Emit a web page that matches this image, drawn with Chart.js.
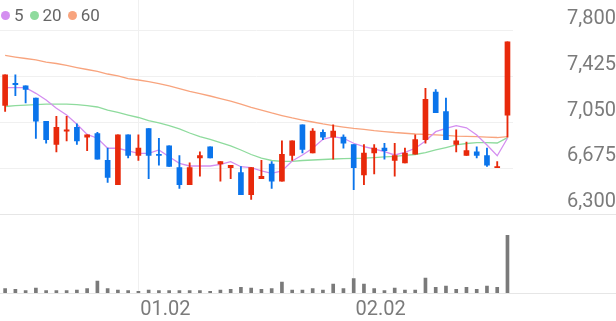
<!DOCTYPE html>
<html>
<head>
<meta charset="utf-8">
<script src="https://cdn.jsdelivr.net/npm/chart.js@4.4.1/dist/chart.umd.min.js"></script>
<style>
  html, body { margin: 0; padding: 0; background: #fff; }
  #wrap { position: relative; width: 616px; height: 321px; }
  #legend {
    position: absolute; left: 1px; top: 5px;
    font: 17px Roboto, sans-serif; color: #666;
    display: flex; align-items: center; line-height: 20px;
  }
  #legend .item { display: flex; align-items: center; margin-right: 6px; }
  #legend .dot { width: 9px; height: 9px; border-radius: 50%; margin-right: 4px; }
</style>
</head>
<body>
<div id="wrap">
  <canvas id="chart" width="616" height="321"></canvas>
  <div id="legend"></div>
</div>
<script>
// daily candles, Dec 2022 - Feb 2023
const categories = [
  '12.13','12.14','12.15','12.16','12.19','12.20','12.21','12.22','12.23','12.26',
  '12.27','12.28','12.29','01.02','01.03','01.04','01.05','01.06','01.09','01.10',
  '01.11','01.12','01.13','01.16','01.17','01.18','01.19','01.20','01.25','01.26',
  '01.27','01.30','01.31','02.01','02.02','02.03','02.06','02.07','02.08','02.09',
  '02.10','02.13','02.14','02.15','02.16','02.17','02.20','02.21','02.22','02.23'
];
const openPrices = [
  7190,7370,7350,7250,7060,6870,6980,7010,6930,6960,
  6740,6540,6950,6780,7000,6790,6860,6680,6540,6760,
  6850,6710,6680,6640,6460,6590,6710,6570,6780,7030,
  6800,6970,6930,6930,6870,6620,6800,6840,6740,6720,
  6790,6910,7300,7140,6870,6780,6810,6780,6680,7110
];
const highPrices = [
  7440,7440,7350,7250,7060,7100,7100,7040,6950,6970,
  6840,6950,6950,6950,7000,6920,6860,6780,6720,6810,
  6850,6730,6700,6690,6680,6740,6730,6900,6900,7030,
  7000,6990,7030,6950,6870,6870,6870,6880,6880,6840,
  6950,7330,7320,7250,6990,6890,6850,6840,6730,7710
];
const lowPrices = [
  7140,7270,7210,6920,6880,6810,6900,6870,6820,6750,
  6560,6540,6760,6740,6590,6700,6690,6510,6540,6610,
  6760,6570,6590,6460,6420,6590,6510,6570,6740,6800,
  6800,6910,6750,6840,6500,6540,6630,6750,6610,6720,
  6790,6880,7130,6910,6810,6780,6760,6690,6680,6930
];
const closePrices = [
  7440,7360,7320,7060,6910,7010,6990,6900,6950,6750,
  6600,6950,6780,6840,6780,6780,6690,6540,6680,6780,
  6760,6730,6700,6460,6680,6610,6570,6790,6900,6830,
  6980,6930,6980,6880,6680,6800,6840,6820,6780,6800,
  6910,7240,7130,6910,6900,6820,6780,6700,6690,7710
];
const volumes = [
  21500,18500,11500,25000,11500,11500,11500,15000,21500,60000,
  21500,15000,11500,8500,15000,11500,11500,11500,11500,11500,
  8500,15000,18500,28500,25000,18500,21500,55000,15000,15000,
  21500,15000,45000,21500,71500,45000,21500,11500,25000,15000,
  15000,75000,28500,35000,18500,28500,18500,35000,28500,288500
];
const ma5 = [
  7335,7335,7335,7289,7234,7166,7111,7035,6953,6921,
  6839,6839,6817,6798,6798,6825,6770,6716,6694,6694,
  6694,6708,6729,6688,6680,6653,6634,6653,6735,6784,
  6839,6912,6934,6921,6880,6852,6833,6811,6784,6806,
  6839,6898,6975,7002,7024,7007,6948,6866,6778,6921
];
const ma20 = [
  7181,7189,7193,7197,7201,7201,7201,7197,7189,7177,
  7152,7132,7111,7091,7066,7046,7025,6997,6964,6935,
  6911,6886,6858,6825,6788,6759,6739,6731,6731,6739,
  6743,6747,6751,6755,6757,6759,6763,6768,6772,6780,
  6788,6804,6825,6845,6866,6878,6886,6886,6882,6926
];
const ma60 = [
  7599,7586,7574,7562,7545,7533,7517,7500,7484,7468,
  7447,7431,7410,7398,7384,7369,7349,7328,7304,7287,
  7267,7246,7226,7201,7173,7152,7128,7107,7087,7070,
  7054,7038,7024,7013,7002,6993,6983,6976,6968,6962,
  6956,6952,6948,6944,6939,6937,6934,6931,6927,6935
];
const priceTicks = [6300, 6675, 7050, 7425, 7800];
const tickLabels = ['01.02', '02.02'];
const maNames = ['5', '20', '60'];

const UP = '#e8290b', DOWN = '#0a74eb';
const maColors = ['#d48ef0', '#8edb9d', '#f8a47e'];
const GRID = '#f0f0f0';
const candleColors = closePrices.map((c, i) => c >= openPrices[i] ? UP : DOWN);

// legend (html)
const legendEl = document.getElementById('legend');
maNames.forEach((n, i) => {
  legendEl.innerHTML += '<div class="item"><span class="dot" style="background:' + maColors[i] + '"></span>' + n + '</div>';
});

// full-width separator lines under the price panel and along the x axis
const separators = {
  id: 'separators',
  beforeDatasetsDraw(chart) {
    const c = chart.ctx;
    const ys = [Math.round(chart.scales.y.getPixelForValue(priceTicks[0])) + 0.5,
                Math.round(chart.scales.x.top) + 0.5];
    c.save();
    c.lineWidth = 1;
    c.strokeStyle = '#e6e6e6';
    ys.forEach(y => { c.beginPath(); c.moveTo(0, y); c.lineTo(chart.width, y); c.stroke(); });
    c.restore();
  }
};

const maDataset = (data, i) => ({
  type: 'line', label: maNames[i], data, yAxisID: 'y',
  borderColor: maColors[i], borderWidth: 1.3, pointRadius: 0, tension: 0, order: 5
});

new Chart(document.getElementById('chart'), {
  data: {
    labels: categories,
    datasets: [
      maDataset(ma5, 0), maDataset(ma20, 1), maDataset(ma60, 2),
      { type: 'bar', label: 'wick', data: lowPrices.map((l, i) => [l, highPrices[i]]), yAxisID: 'y',
        backgroundColor: candleColors, barThickness: 1.2, grouped: false, order: 2 },
      { type: 'bar', label: 'body', data: openPrices.map((o, i) => [o, closePrices[i]]), yAxisID: 'y',
        backgroundColor: candleColors, barThickness: 5, grouped: false, order: 1 },
      { type: 'bar', label: 'volume', data: volumes, yAxisID: 'yVol',
        backgroundColor: '#7a7a7a', barThickness: 3, grouped: false, order: 3 }
    ]
  },
  options: {
    responsive: false,
    animation: false,
    devicePixelRatio: 1,
    layout: { padding: 0 },
    plugins: { legend: { display: false }, tooltip: { enabled: false } },
    scales: {
      x: {
        offset: true,
        grid: { offset: false, color: GRID, drawTicks: false },
        border: { display: false },
        afterBuildTicks: s => { s.ticks = s.ticks.filter(t => tickLabels.includes(categories[t.value])); },
        afterFit: s => { s.height = 28; s.paddingLeft = 0; s.paddingRight = 0; },
        ticks: {
          autoSkip: false, maxRotation: 0, padding: 5, labelOffset: 27,
          color: '#7b7b7b', font: { family: 'Roboto', size: 20 }
        }
      },
      y: {
        position: 'right',
        min: 5654, max: 8053,
        afterBuildTicks: s => { s.ticks = priceTicks.map(v => ({ value: v })); },
        afterFit: s => { s.width = 103.4; s.paddingTop = 0; s.paddingBottom = 0; },
        grid: { color: GRID, drawTicks: false },
        border: { display: false },
        ticks: {
          crossAlign: 'far', padding: 52, labelOffset: -12,
          color: '#7b7b7b', font: { family: 'Roboto', size: 20 },
          callback: v => v.toLocaleString('en-US')
        }
      },
      yVol: { display: false, min: 0, max: 1465000 }
    }
  },
  plugins: [separators]
});
</script>
</body>
</html>
